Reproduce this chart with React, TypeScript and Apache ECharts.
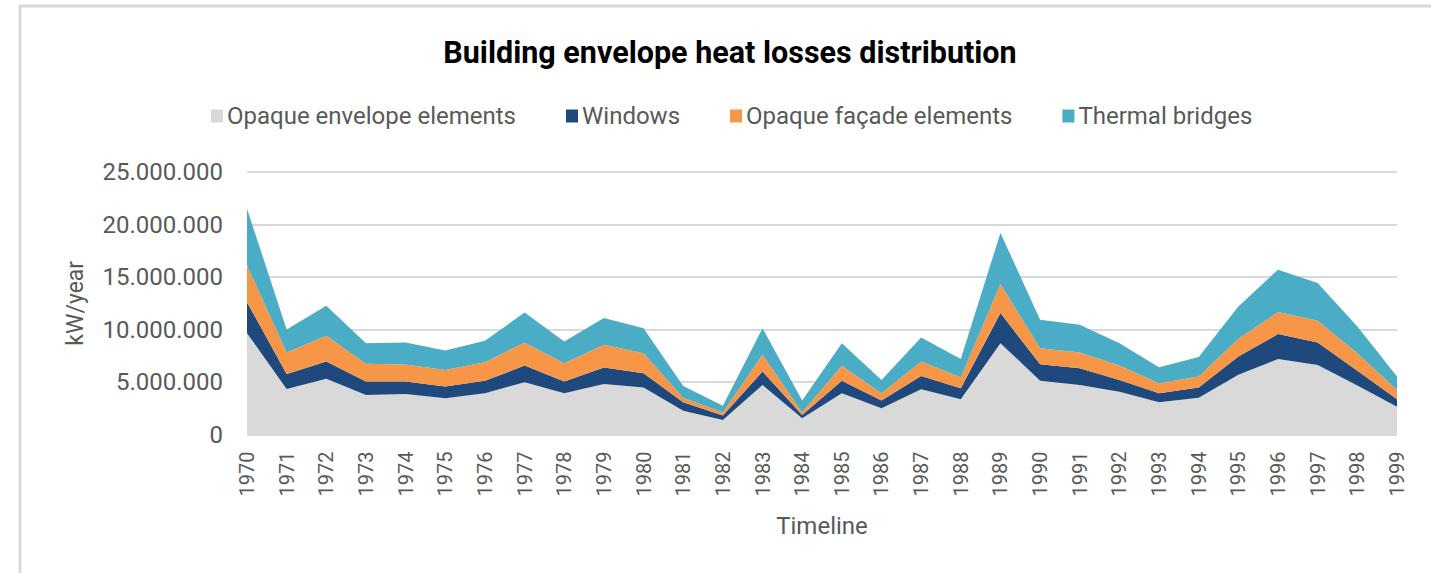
import React, { useEffect, useRef } from "react";
import * as echarts from "echarts";

const years = [
  "1970", "1971", "1972", "1973", "1974", "1975", "1976", "1977", "1978", "1979",
  "1980", "1981", "1982", "1983", "1984", "1985", "1986", "1987", "1988", "1989",
  "1990", "1991", "1992", "1993", "1994", "1995", "1996", "1997", "1998", "1999",
];

const opaqueEnvelope = [
  9650000, 4340000, 5300000, 3770000, 3860000, 3450000, 3930000, 4980000, 3930000, 4820000,
  4470000, 2270000, 1380000, 4720000, 1550000, 3930000, 2500000, 4310000, 3360000, 8700000,
  5130000, 4720000, 4080000, 3070000, 3510000, 5680000, 7180000, 6630000, 4660000, 2650000,
];
const windows = [
  2950000, 1430000, 1650000, 1270000, 1180000, 1110000, 1200000, 1580000, 1110000, 1550000,
  1370000, 800000, 420000, 1280000, 310000, 1200000, 730000, 1270000, 1050000, 2860000,
  1570000, 1600000, 1120000, 860000, 960000, 1740000, 2380000, 2130000, 1400000, 710000,
];
const opaqueFacade = [
  3500000, 2030000, 2450000, 1690000, 1620000, 1590000, 1760000, 2200000, 1750000, 2170000,
  1910000, 440000, 320000, 1590000, 260000, 1410000, 700000, 1370000, 1050000, 2770000,
  1520000, 1480000, 1360000, 960000, 1050000, 1690000, 2100000, 2070000, 1690000, 890000,
];
const thermalBridges = [
  5400000, 2200000, 2860000, 1970000, 2100000, 1850000, 2030000, 2860000, 2070000, 2550000,
  2380000, 1120000, 630000, 2540000, 1110000, 2160000, 1270000, 2290000, 1740000, 4870000,
  2710000, 2650000, 2140000, 1520000, 1850000, 3090000, 4040000, 3600000, 2540000, 1270000,
];

const seriesNames = [
  "Opaque envelope elements",
  "Windows",
  "Opaque façade elements",
  "Thermal bridges",
];
const colors = ["#d9d9d9", "#1f497d", "#f79646", "#4bacc6"];

const FONT = "Roboto, 'Noto Sans', sans-serif";
const TXT = "#595959";

function fmt(v: number): string {
  return String(Math.round(v)).replace(/\B(?=(\d{3})+(?!\d))/g, ".");
}

export default function App() {
  const ref = useRef<HTMLDivElement>(null);
  useEffect(() => {
    document.body.style.margin = "0";
    if (!ref.current) return;
    const chart = echarts.init(ref.current, undefined, { renderer: "svg" });
    const data = [opaqueEnvelope, windows, opaqueFacade, thermalBridges];
    chart.setOption({
      animation: false,
      backgroundColor: "#ffffff",
      textStyle: { fontFamily: FONT },
      title: {
        text: "Building envelope heat losses distribution",
        left: 725,
        textAlign: "center",
        top: 32,
        textStyle: { fontSize: 30.5, fontWeight: "bold", color: "#000000", fontFamily: FONT },
      },
      legend: {
        top: 99,
        left: 206,
        icon: "rect",
        itemWidth: 12,
        itemHeight: 13,
        itemGap: 50,
        textStyle: { fontSize: 24, color: TXT, fontFamily: FONT, padding: [0, 0, 0, -1] },
        data: seriesNames,
      },
      graphic: [
        {
          type: "polyline",
          shape: { points: [[20, 573], [20, 6], [1431, 6]] },
          style: { stroke: "#d9d9d9", lineWidth: 3, fill: "none" },
          silent: true,
        },
      ],
      grid: { left: 247, right: 34, top: 172, bottom: 138.5, containLabel: false },
      xAxis: {
        type: "category",
        boundaryGap: false,
        data: years,
        name: "Timeline",
        nameLocation: "middle",
        nameGap: 79,
        nameTextStyle: { fontSize: 24, color: TXT, fontFamily: FONT },
        axisLine: { show: false },
        axisTick: { show: false },
        axisLabel: { rotate: 90, fontSize: 20, color: TXT, margin: 17, fontFamily: FONT, interval: 0 },
      },
      yAxis: {
        type: "value",
        min: 0,
        max: 25000000,
        interval: 5000000,
        name: "kW/year",
        nameLocation: "middle",
        nameRotate: 90,
        nameGap: 160,
        nameTextStyle: { fontSize: 23, color: TXT, fontFamily: FONT },
        axisLine: { show: false },
        axisTick: { show: false },
        axisLabel: { fontSize: 24, color: TXT, margin: 24, formatter: fmt, fontFamily: FONT },
        splitLine: { lineStyle: { color: "#d9d9d9", width: 2 } },
      },
      series: seriesNames.map((name, i) => ({
        name,
        type: "line",
        stack: "total",
        data: data[i],
        showSymbol: false,
        symbol: "none",
        lineStyle: { width: 0 },
        areaStyle: { color: colors[i], opacity: 1 },
        itemStyle: { color: colors[i] },
        z: 2,
      })),
    });
    return () => chart.dispose();
  }, []);
  return <div ref={ref} style={{ width: 1431, height: 573 }} />;
}
